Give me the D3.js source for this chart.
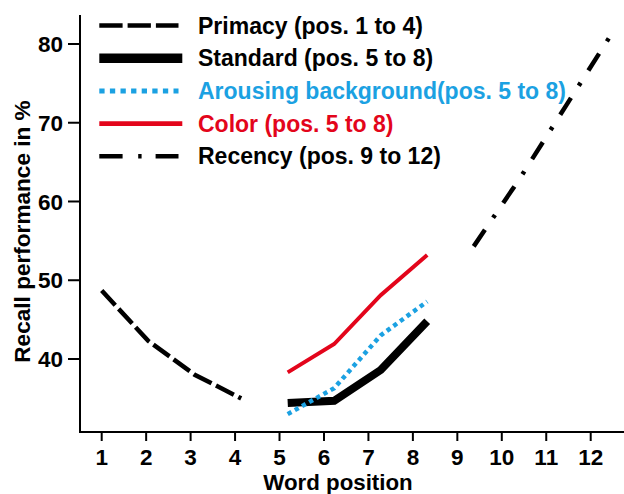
<!DOCTYPE html>
<html>
<head>
<meta charset="utf-8">
<script src="https://cdn.jsdelivr.net/npm/d3@7"></script>
<style>
  html, body { margin: 0; padding: 0; background: #fff; }
  svg { display: block; }
  text { font-family: "Liberation Sans", Arial, Helvetica, sans-serif; font-weight: bold; }
</style>
</head>
<body>
<svg id="chart" width="624" height="494"></svg>
<script>
// ---- data ----
const xTicks = [1, 2, 3, 4, 5, 6, 7, 8, 9, 10, 11, 12];
const yTicks = [40, 50, 60, 70, 80];

const primacyPos = [1, 2, 3, 4];
const primacyVals = [48.7, 42.3, 38.0, 35.0];

const midPos = [5, 6, 7, 8];
const standardVals = [34.4, 34.7, 38.6, 44.8];
const arousingVals = [33.0, 36.3, 43.0, 47.3];
const colorVals = [38.3, 41.9, 48.1, 53.2];

const recencyPos = [9, 10, 11, 12];
const recencyVals = [54.3, 63.0, 72.3, 81.6];

const legendLabels = [
  "Primacy (pos. 1 to 4)",
  "Standard (pos. 5 to 8)",
  "Arousing background(pos. 5 to 8)",
  "Color (pos. 5 to 8)",
  "Recency (pos. 9 to 12)"
];

// ---- styles ----
const BLUE = "#1ba1e2";
const RED = "#e3051b";
const seriesStyles = [
  { color: "#000", width: 4.5, dash: "20,5",            lw: 4.5, ldash: "23.3,5",        text: "#000" },
  { color: "#000", width: 8,   dash: null,              lw: 9.5, ldash: null,            text: "#000" },
  { color: BLUE,   width: 4.5, dash: "4.3,3.9",         lw: 5,   ldash: "5.3,5.3",       text: BLUE },
  { color: RED,    width: 4,   dash: null,              lw: 4.8, ldash: null,            text: RED },
  { color: "#000", width: 4.5, dash: "20,14.5,3.5,14.5", lw: 4.5, ldash: "23.3,15.6,3.4,14", text: "#000" }
];

const series = [
  { pos: primacyPos, vals: primacyVals },
  { pos: midPos, vals: standardVals },
  { pos: midPos, vals: arousingVals },
  { pos: midPos, vals: colorVals },
  { pos: recencyPos, vals: recencyVals }
];

// ---- scales ----
const svg = d3.select("#chart");
const axisLeftX = 80, axisBottomY = 432, axisTopY = 15, axisRightX = 624;

const y = d3.scaleLinear().domain([30.73, 83.68]).range([axisBottomY, axisTopY]);
// axis ticks scale
const xAxisScale = d3.scaleLinear().domain([1, 12]).range([101.7, 590.7]);
// plotted data positions (figure places data slightly wider than its ticks)
const xData = d3.scaleLinear().domain([1, 12]).range([101.7, 613.2]);

// ---- axes ----
const gy = svg.append("g").attr("transform", `translate(${axisLeftX},0)`);
gy.append("line").attr("x1", 0).attr("x2", 0).attr("y1", axisTopY).attr("y2", axisBottomY)
  .attr("stroke", "#000").attr("stroke-width", 2);
const yt = gy.selectAll("g.tick").data(yTicks).enter().append("g")
  .attr("transform", d => `translate(0,${y(d)})`);
yt.append("line").attr("x1", -12).attr("x2", 0).attr("stroke", "#000").attr("stroke-width", 2);
yt.append("text").attr("x", -17).attr("dy", "0.36em").attr("text-anchor", "end")
  .attr("font-size", 22.5).text(d => d);

const gx = svg.append("g").attr("transform", `translate(0,${axisBottomY})`);
gx.append("line").attr("x1", axisLeftX - 1).attr("x2", axisRightX).attr("y1", 0).attr("y2", 0)
  .attr("stroke", "#000").attr("stroke-width", 2);
const xt = gx.selectAll("g.tick").data(xTicks).enter().append("g")
  .attr("transform", d => `translate(${xAxisScale(d)},0)`);
xt.append("line").attr("y1", 0).attr("y2", 9).attr("stroke", "#000").attr("stroke-width", 2);
xt.append("text").attr("y", 33).attr("text-anchor", "middle")
  .attr("font-size", 22.5).text(d => d);

svg.append("text").attr("x", 338).attr("y", 490).attr("text-anchor", "middle")
  .attr("font-size", 22.3).text("Word position");
svg.append("text").attr("transform", "translate(30,231.5) rotate(-90)")
  .attr("text-anchor", "middle").attr("font-size", 22.6).text("Recall performance in %");

// ---- lines ----
const line = d3.line().x(d => xData(d[0])).y(d => y(d[1]));
series.forEach((s, i) => {
  const st = seriesStyles[i];
  const pts = s.pos.map((p, j) => [p, s.vals[j]]);
  const path = svg.append("path").datum(pts).attr("d", line)
    .attr("fill", "none").attr("stroke", st.color).attr("stroke-width", st.width)
    .attr("stroke-linejoin", "miter").attr("stroke-linecap", "butt");
  if (st.dash) path.attr("stroke-dasharray", st.dash);
});

// ---- legend ----
const legendY0 = 25.5, legendStep = 32.7;
const lg = svg.append("g");
legendLabels.forEach((lab, i) => {
  const st = seriesStyles[i];
  const yy = legendY0 + i * legendStep;
  const l = lg.append("line").attr("x1", 99.3).attr("x2", i === 1 || i === 3 ? 182.3 : 178.5)
    .attr("y1", yy).attr("y2", yy)
    .attr("stroke", st.color).attr("stroke-width", st.lw);
  if (st.ldash) l.attr("stroke-dasharray", st.ldash);
  lg.append("text").attr("x", 198).attr("y", yy + 8).attr("font-size", 23)
    .attr("fill", st.text).text(lab);
});
</script>
</body>
</html>
